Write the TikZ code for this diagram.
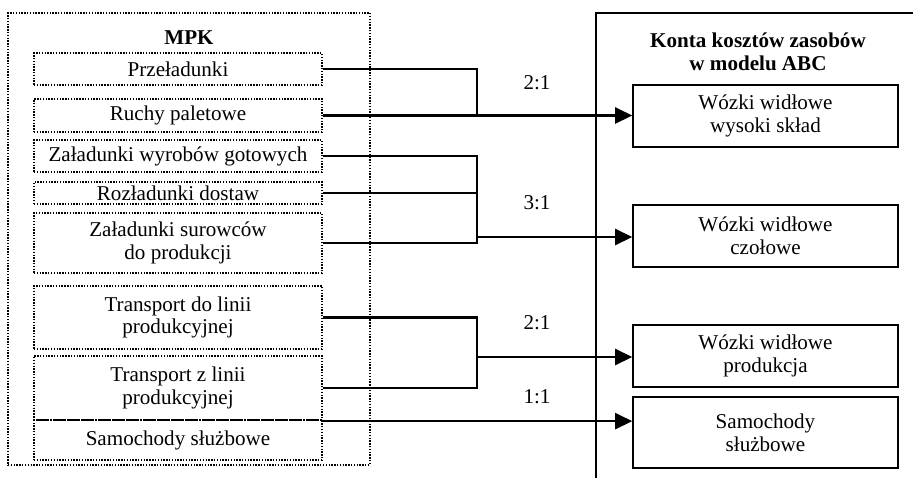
\documentclass[tikz,border=0pt]{standalone}
\usepackage{fontspec}
\setmainfont{Liberation Serif}
\usepackage{tikz}
\usetikzlibrary{arrows.meta}
\tikzstyle{title} = [text centered, font=\fontsize{12}{13}\selectfont\bfseries, align=center]
\tikzstyle{group} = [rectangle, draw=black, line width=1pt, dash pattern=on 0.8pt off 0.8pt, minimum width=7.24cm, minimum height=9.04cm]
\tikzstyle{mpk} = [rectangle, draw=black, line width=1pt, dash pattern=on 0.8pt off 0.8pt, minimum width=5.76cm, inner sep=0pt, text centered, align=center]
\tikzstyle{konto} = [rectangle, draw=black, line width=0.9pt, minimum width=5.3cm, minimum height=1.24cm, inner sep=0pt, text centered, align=center]
\tikzstyle{ratio} = [text centered]
\tikzstyle{line} = [line width=1.2pt]
\tikzstyle{arrow} = [line width=1.2pt, -{Triangle[length=0.34cm, width=0.32cm]}]

\begin{document}
\begin{tikzpicture}[x=0.02cm, y=-0.02cm, font=\fontsize{12}{13}\selectfont]
		\useasboundingbox (0,0) rectangle (913,478);
		% MPK
		\node (mpkbox) [group] at (189,239) {};
		\node (mpk) [title] at (189,38) {MPK};
		\node (przel) [mpk, minimum height=0.64cm] at (178,69) {Przeładunki};
		\node (ruchy) [mpk, minimum height=0.66cm] at (178,115.5) {Ruchy paletowe};
		\node (zwg) [mpk, minimum height=0.64cm] at (178,156) {Załadunki wyrobów gotowych};
		\node (rozl) [mpk, minimum height=0.44cm] at (178,193) {Rozładunki dostaw};
		\node (zsur) [mpk, minimum height=1.2cm] at (178,243) {Załadunki surowców\\do produkcji};
		\node (tdo) [mpk, minimum height=1.26cm] at (178,317.5) {Transport do linii\\produkcyjnej};
		\node (tz) [mpk, minimum height=1.28cm] at (178,388) {Transport z linii\\produkcyjnej};
		\node (sam) [mpk, minimum height=0.8cm] at (178,440) {Samochody służbowe};
		% konta kosztow
		\draw [line width=0.9pt] (913,13) -- (596,13) -- (596,478);
		\node (abc) [title] at (758,51.5) {Konta kosztów zasobów\\w modelu ABC};
		\node (wysoki) [konto] at (765.5,116) {Wózki widłowe\\wysoki skład};
		\node (czolowe) [konto] at (765.5,236) {Wózki widłowe\\czołowe};
		\node (produkcja) [konto] at (765.5,356) {Wózki widłowe\\produkcja};
		\node (samochody) [konto, minimum height=1.42cm] at (765.5,432.5) {Samochody\\służbowe};
		% laczenia
		\coordinate (j1) at (477,116);
		\coordinate (j2) at (477,237);
		\coordinate (j3) at (477,357);
		\coordinate (samout) at ([yshift=-0.04cm]sam.north east);
		\draw [line] (przel.east) -| (j1);
		\draw [arrow] (ruchy.east) -- (ruchy.east -| wysoki.west);
		\draw [line] (zwg.east) -| (j2) |- (zsur.east);
		\draw [line] (rozl.east) -- (rozl.east -| j2);
		\draw [arrow] (j2) -- (j2 -| czolowe.west);
		\draw [line] (tdo.east) -| (j3) |- (tz.east);
		\draw [arrow] (j3) -- (j3 -| produkcja.west);
		\draw [arrow] (samout) -- (samout -| samochody.west);
		\node (r1) [ratio] at (537,83) {2:1};
		\node (r2) [ratio] at (537,203) {3:1};
		\node (r3) [ratio] at (537,323) {2:1};
		\node (r4) [ratio] at (537,397) {1:1};
\end{tikzpicture}
\end{document}
